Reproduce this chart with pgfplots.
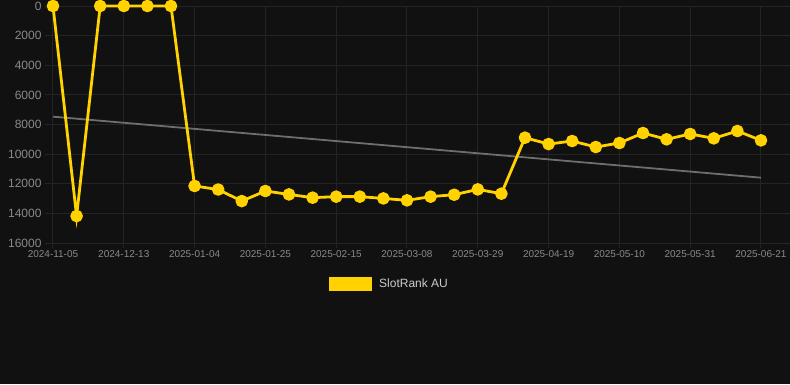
\documentclass[border=0pt]{standalone}
\usepackage{pgfplots}
\pgfplotsset{compat=1.18}
\usepackage{fontspec}
\setmainfont{Liberation Sans}
\definecolor{bg}{HTML}{111111}
\definecolor{gridc}{HTML}{242424}
\definecolor{tickc}{HTML}{8A8A8A}
\definecolor{legc}{HTML}{CCCCCC}
\definecolor{gold}{HTML}{FFD200}
\definecolor{trend}{HTML}{6E6E6E}
\begin{document}
\begin{tikzpicture}
\fill[bg] (-50pt,-141pt) rectangle (740pt,243pt);
\useasboundingbox (-50pt,-141pt) rectangle (740pt,243pt);
\begin{axis}[
  at={(0pt,0pt)}, anchor=south west,
  scale only axis, width=740pt, height=237pt,
  xmin=-0.127, xmax=31.23,
  ymin=0, ymax=16000, y dir=reverse,
  clip=false,
  axis line style={draw=none},
  xtick={0,3,...,30},
  xticklabels={2024-11-05,2024-12-13,2025-01-04,2025-01-25,2025-02-15,2025-03-08,2025-03-29,2025-04-19,2025-05-10,2025-05-31,2025-06-21},
  ytick={0,2000,...,16000},
  scaled y ticks=false,
  /pgf/number format/fixed,
  /pgf/number format/1000 sep={},
  /pgf/number format/assume math mode=true,
  x tick label style={font=\fontsize{10}{12}\selectfont, text=tickc, yshift=1pt},
  y tick label style={font=\fontsize{12}{14}\selectfont, text=tickc, xshift=0pt},
  tick align=outside, major tick length=5pt,
  tick style={gridc, line width=1pt},
  xtick pos=bottom, ytick pos=left,
  grid=major,
  major grid style={gridc, line width=1pt},
  legend style={at={(0.459,-0.173)}, anchor=center, draw=none, fill=none,
    text=legc, font=\fontsize{12}{14}\selectfont, inner sep=0pt, column sep=5pt},
  legend image code/.code={\fill[gold] (0pt,-5.5pt) rectangle (40pt,5.5pt);},
  legend cell align=left,
]
\addplot[trend, line width=1.8pt, forget plot] coordinates {(0,7470) (30,11590)};
\addplot[gold, line width=2.8pt, line join=miter, mark=*, mark size=4.9pt, mark options={fill=gold, draw=none, line join=round}] coordinates {
(0,0) (1,14180) (2,0) (3,0) (4,0) (5,0) (6,12150) (7,12390) (8,13170)
(9,12490) (10,12720) (11,12940) (12,12870) (13,12870) (14,12990) (15,13120)
(16,12870) (17,12740) (18,12380) (19,12670) (20,8890) (21,9320) (22,9115)
(23,9520) (24,9250) (25,8575) (26,9000) (27,8640) (28,8935) (29,8440) (30,9070)};
\addlegendentry{SlotRank AU}
\end{axis}
\end{tikzpicture}
\end{document}
